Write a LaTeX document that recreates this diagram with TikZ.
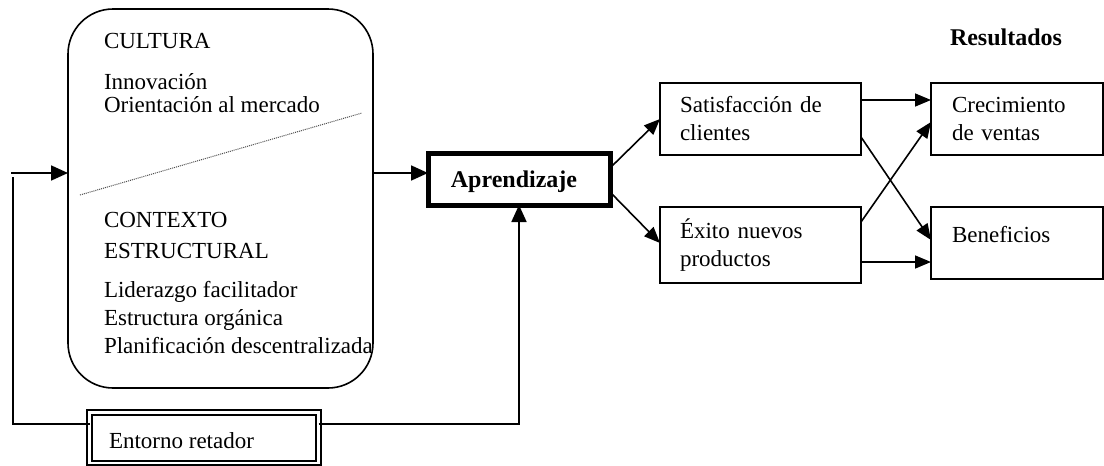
\documentclass[tikz,border=0pt]{standalone}
\usepackage{fontspec}
\setmainfont{Liberation Serif}
\usetikzlibrary{arrows.meta}
\begin{document}
\begin{tikzpicture}[x=1pt,y=-1pt,
  lbl/.style={font=\fontsize{23}{28}\selectfont, inner sep=0pt, outer sep=0pt, anchor=base west},
  boxn/.style={draw, line width=1.6pt, outer sep=0pt, align=left, font=\fontsize{23}{28}\selectfont, inner ysep=0pt},
  conn/.style={line width=1.6pt},
  arr/.style={line width=1.6pt, -{Triangle[length=16pt,width=13pt]}},
  bigarr/.style={line width=1.8pt, -{Triangle[length=17pt,width=15pt]}}
]
\useasboundingbox (0,0) rectangle (1104,466);
% left rounded box
\node[draw, line width=1.6pt, rounded corners=45pt, minimum width=305pt, minimum height=379pt, inner sep=0pt, outer sep=0pt] (cult) at (220.5,198.5) {};
\node[lbl] (t1) at (104,48) {CULTURA};
\node[lbl] (t2) at (104,89) {Innovación};
\node[lbl] (t3) at (104,112) {Orientación al mercado};
\draw[densely dotted, line width=1pt, black!70] (80,195) -- (362,113);
\node[lbl] (t4) at (104,227) {CONTEXTO};
\node[lbl] (t5) at (104,258) {ESTRUCTURAL};
\node[lbl] (t6) at (104,297) {Liderazgo facilitador};
\node[lbl] (t7) at (104,325) {Estructura orgánica};
\node[lbl] (t8) at (104,353) {Planificación descentralizada};
% Aprendizaje
\node[draw, line width=5pt, minimum width=182pt, minimum height=52pt, inner sep=0pt, outer sep=0pt] (apr) at (519,179) {};
\node[lbl, anchor=base, font=\fontsize{24}{28}\selectfont\bfseries] (aprt) at (514,187) {Aprendizaje};
% Entorno
\node[draw, line width=1.8pt, double=white, double distance=2.6pt, minimum width=229pt, minimum height=50.5pt, inner sep=0pt, outer sep=0pt] (ent) at (204,437.75) {};
\node[lbl] (entt) at (109,448) {Entorno retador};
% middle boxes
\node[boxn, minimum width=201pt, minimum height=72pt, text width=161pt, inner xsep=20pt] (sat) at (760.5,119) {Satisfacción de\\clientes};
\node[boxn, minimum width=201pt, minimum height=76pt, text width=161pt, inner xsep=20pt] (exi) at (760.5,245) {Éxito nuevos\\productos};
% results
\node[lbl, font=\fontsize{24}{28}\selectfont\bfseries] (res) at (950,45) {Resultados};
\node[boxn, minimum width=172pt, minimum height=72pt, text width=130pt, inner xsep=21pt] (cre) at (1017,119) {Crecimiento\\de ventas};
\node[draw, line width=1.6pt, minimum width=172pt, minimum height=72pt, inner sep=0pt, outer sep=0pt] (ben) at (1017,243) {};
\node[lbl] (bent) at (952,242) {Beneficios};
% connectors
\draw[bigarr] (cult.east |- 0,173) -- (apr.west |- 0,173);
\draw[conn] (ent.west |- 0,424) -| (13,177);
\draw[bigarr] (11,173) -- (cult.west |- 0,173);
\draw[bigarr] (ent.east |- 0,424) -| (apr.south);
\draw[arr] ([yshift=11pt]apr.east) -- (sat.west);
\draw[arr] ([yshift=-13pt]apr.east) -- ([yshift=2pt]exi.west);
\draw[arr] ([yshift=19pt]sat.east) -- ([yshift=19pt]cre.west);
\draw[arr] ([yshift=-18pt]sat.east) -- ([yshift=3pt]ben.west);
\draw[arr] ([yshift=23pt]exi.east) -- ([yshift=-3pt]cre.west);
\draw[arr] ([yshift=-17pt]exi.east) -- ([yshift=-19pt]ben.west);
\end{tikzpicture}
\end{document}
